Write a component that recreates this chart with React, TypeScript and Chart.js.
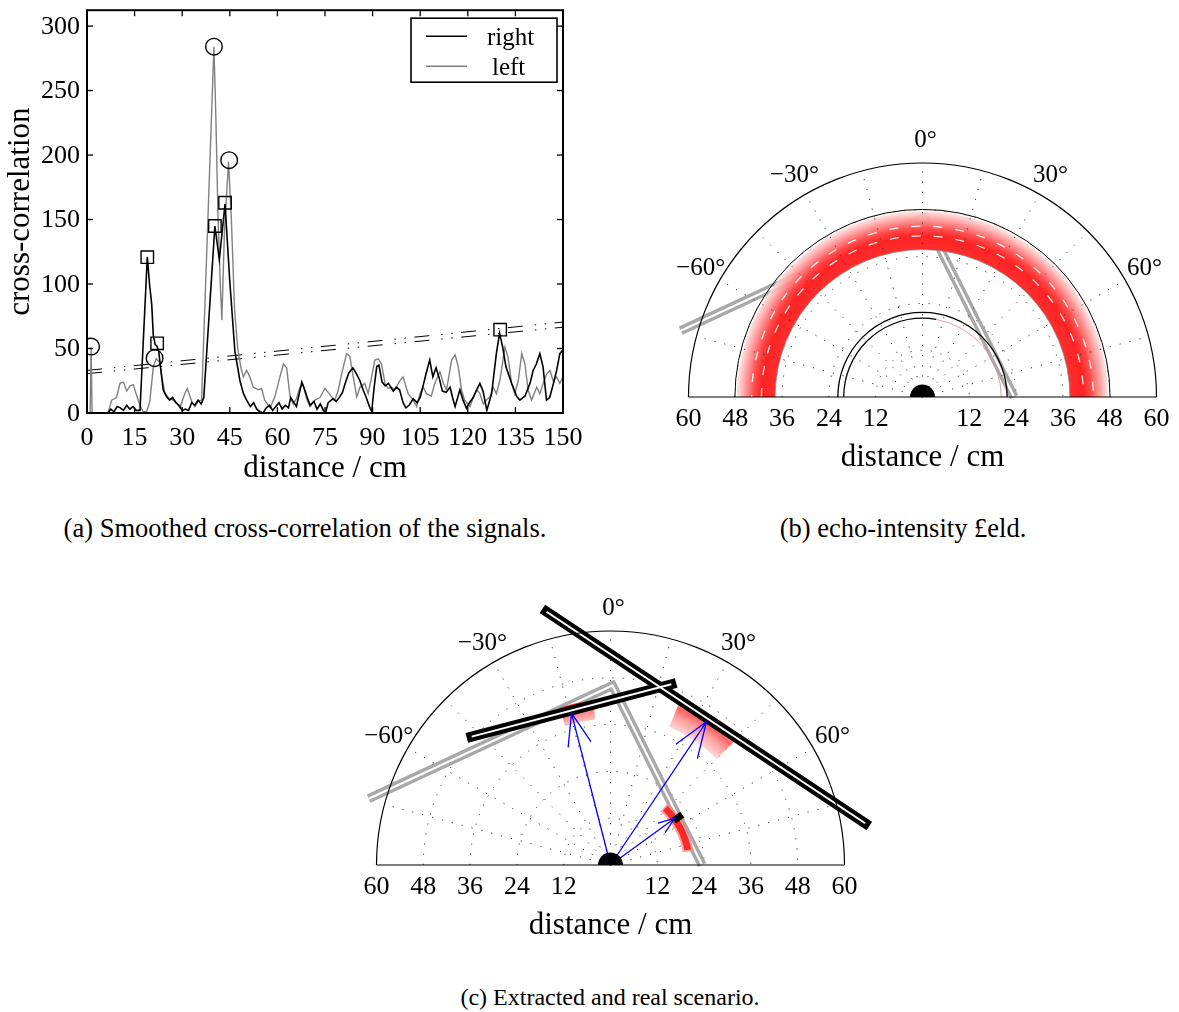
import React, { useEffect, useRef } from "react";
import { Chart, registerables } from "chart.js";
Chart.register(...registerables);

const SERIF = '"Liberation Serif", "Times New Roman", serif';

// ---------------- Panel (a): cross-correlation ----------------
const rightX = [6.5, 7.5, 8.5, 9.5, 10.5, 11.5, 12.5, 13.5, 14.5, 15.5, 16.7, 19, 19.7, 20.4, 20.9, 21.5, 22, 22.6, 23.2, 24, 25, 26, 27, 28, 29, 30, 31, 32, 33, 34, 35, 36, 36.8, 40.3, 41.7, 43.5, 45, 46.6, 48.2, 49.3, 50.3, 51.5, 52.5, 53.5, 54.5, 55.5, 56.5, 57.5, 58.5, 59.5, 60.5, 61.5, 62.5, 63.5, 64.2, 65.2, 66, 66.8, 67.7, 68.6, 69.4, 70.3, 71.5, 72.5, 73.5, 74.5, 75.2, 76, 77.5, 78.5, 79.5, 80.5, 81.5, 82.5, 83.8, 85, 86, 87, 88, 89, 89.7, 90.5, 91.3, 92, 93, 94, 95, 96.5, 97.5, 98.5, 99.6, 100.5, 101.5, 102.8, 104, 105, 106, 107, 108, 109, 110, 111, 112, 113.2, 114.4, 115.2, 116, 117.5, 118.5, 119.6, 120.5, 121.7, 122.8, 123.8, 124.8, 126, 127.5, 129, 130, 131, 132, 133.8, 135.4, 136.4, 138, 139.6, 140.6, 141.6, 142.7, 143.7, 144.8, 145.8, 147, 148, 149, 150];
const rightY = [0, 3, 1, 5, 4, 2, 6, 3, 5, 2, 2, 121, 100, 84, 60, 53, 52, 48, 35, 18, 13, 10, 12, 8, 6, 2, 3, 2, 8, 6, 10, 7, 12, 145, 119, 162, 102, 48, 25, 15, 10, 5, 8, 3, 1, 0, 4, 6, 2, 5, 8, 3, 6, 4, 12, 8, 5, 14, 24, 18, 12, 6, 9, 3, 7, 2, 0.5, 8, 11, 9, 12, 16, 24, 31, 35, 30, 25, 18, 12, 5, 1, 20, 36, 37, 24, 21, 23, 17, 20, 18, 8, 4, 6, 11, 8, 12, 22, 32, 41, 28, 35, 27, 17, 16, 20, 12, 5, 18, 10, 3.6, 8, 12, 18, 23, 17, 2, 15, 46, 62, 51, 36, 23, 13, 10, 13, 23, 33, 38, 46, 36, 10, 12, 23, 33, 46, 49];

const leftX = [0, 1.0, 1.3, 1.6, 6.6, 7.8, 9.3, 10.4, 11.5, 12.5, 13.6, 14.6, 15.6, 16.7, 17.7, 18.8, 19.8, 20.9, 21.8, 23, 23.6, 24.5, 25.6, 27.2, 28.2, 29.3, 30.8, 31.6, 33, 34, 35, 36.1, 40, 40.6, 41.3, 42, 42.5, 43.3, 44.6, 45.5, 46.5, 47.5, 48.5, 49.3, 50.3, 51.3, 52.4, 54, 55, 56, 57.7, 59.2, 60.8, 61.9, 62.9, 64, 65, 66, 67.1, 68.1, 69.2, 70.3, 71.8, 73.4, 75, 76, 77.1, 78.1, 79.2, 80.2, 81.8, 82.8, 83.9, 85, 86, 87.5, 88.6, 89.7, 90.7, 91.8, 92.8, 93.9, 94.9, 96, 97, 98.6, 99.6, 100.7, 101.2, 102.8, 103.9, 104.9, 105.9, 107, 108.5, 109.6, 111.2, 111.7, 112.3, 113.3, 114.9, 116, 117, 118, 119, 120.7, 121.7, 122.8, 123.8, 124.9, 125.9, 127, 128, 129, 130.1, 131.7, 132.7, 133.8, 134.8, 135.9, 137, 138, 139, 140.1, 141.7, 142.7, 143.8, 144.8, 145.9, 146.9, 148, 149, 150];
const leftY = [0, 0, 51, 0, 0, 10, 12, 23, 24, 17, 21, 22, 14, 6, 1, 1, 9, 36, 42, 39, 28, 16, 12, 10, 8, 4, 15, 19, 9, 5, 9, 10, 284, 230, 150, 100, 72, 140, 195, 150, 80, 50, 35, 28, 33, 28, 20, 18, 19, 10, 4, 12.5, 28, 38, 35, 12.5, 7, 11, 20, 22, 11, 5, 10, 12, 19, 16, 12.5, 10, 18, 30, 46, 44, 28, 12.5, 20, 23, 15, 28, 41, 42, 38, 23, 19, 20, 18, 25, 28, 19, 15, 10, 5, 15, 20, 15, 13, 23, 32, 28, 23, 18, 41, 45, 36, 18, 10, 5, 12, 18, 15, 7, 10, 12.5, 20, 15, 25, 51, 43, 23, 15, 25, 46, 38, 18, 10, 20, 15, 23, 30, 33, 25, 28, 23, 28];

const circlePeakX = [1.3, 21.3, 40.0, 44.8];
const circlePeakY = [51.5, 42.5, 284, 196];
const squarePeakX = [19.0, 22.1, 40.3, 43.5, 130.2];
const squarePeakY = [120.8, 54, 145, 163, 64.6];

const thresholdX = [0, 150];
const thresholdRightY = [33, 70.5];
const thresholdLeftY = [30.5, 66.5];

const distanceTicks = [0, 15, 30, 45, 60, 75, 90, 105, 120, 135, 150];
const correlationTicks = [0, 50, 100, 150, 200, 250, 300];
const legendLabels = ["right", "left"];

// ---------------- Panels (b) and (c): polar half-planes ----------------
const polarDistanceTicks = [-60, -48, -36, -24, -12, 12, 24, 36, 48, 60];
const polarAngleTicks = [-60, -30, 0, 30, 60];
const polarGridRadii = [12, 24, 36, 48];
const polarSpokeAngles = [-75, -60, -45, -30, -15, 0, 15, 30, 45, 60, 75];

// real scenario walls (cm)
const realWallX = [-62, 0.5, 23.5];
const realWallY = [17, 46, 0];

// (b) echo-intensity ring and arcs (cm)
const echoRingRadii = [37.8, 47.6];
const echoRingDashRadii = [41.3, 43.8];
const echoBoundaryRadius = [48.1];
const echoInnerArcRadii = [21.7, 20.2];

// (c) extracted walls (cm)
const extractedWall1X = [-16.4, 65.3];
const extractedWall1Y = [64.9, 10.7];
const extractedWall2X = [-35.6, 15.6];
const extractedWall2Y = [32.9, 46.3];
const extractedEdgeX = [16.3, 18.4];
const extractedEdgeY = [11.4, 12.9];
const arrowTipX = [-10.0, 24.6, 16.5];
const arrowTipY = [38.9, 36.7, 12.0];
const patchInner = [37.5, 38.5, 19.2];
const patchOuter = [42.4, 46.0, 21.2];
const patchFrom = [-18, 23, 43];
const patchTo = [-6, 45, 80];

const pts = (xs: number[], ys: number[]) => xs.map((x, i) => ({ x, y: ys[i] }));

function line(ctx: CanvasRenderingContext2D, x0: number, y0: number, x1: number, y1: number) {
  ctx.beginPath();
  ctx.moveTo(x0, y0);
  ctx.lineTo(x1, y1);
  ctx.stroke();
}

// ---------- panel (a) axes plugin ----------
const axesA = {
  id: "axesA",
  afterDraw(chart: any) {
    const { ctx, chartArea: a } = chart;
    const xs = chart.scales.x;
    const ys = chart.scales.y;
    ctx.save();
    ctx.strokeStyle = "#000";
    ctx.lineWidth = 2;
    ctx.strokeRect(a.left, a.top, a.right - a.left, a.bottom - a.top);
    ctx.lineWidth = 1.3;
    for (const v of distanceTicks) {
      const p = xs.getPixelForValue(v);
      line(ctx, p, a.bottom, p, a.bottom - 6);
      line(ctx, p, a.top, p, a.top + 6);
    }
    for (const v of correlationTicks) {
      const p = ys.getPixelForValue(v);
      line(ctx, a.left, p, a.left + 6, p);
      line(ctx, a.right, p, a.right - 6, p);
    }
    ctx.fillStyle = "#000";
    ctx.font = `26px ${SERIF}`;
    ctx.textAlign = "center";
    ctx.textBaseline = "middle";
    for (const v of distanceTicks) ctx.fillText(String(v), xs.getPixelForValue(v), a.bottom + 25);
    ctx.textAlign = "right";
    for (const v of correlationTicks) ctx.fillText(String(v), a.left - 7, ys.getPixelForValue(v) + 1);
    ctx.font = `31px ${SERIF}`;
    ctx.textAlign = "center";
    ctx.fillText("distance / cm", (a.left + a.right) / 2, a.bottom + 56);
    ctx.save();
    ctx.translate(a.left - 66, (a.top + a.bottom) / 2);
    ctx.rotate(-Math.PI / 2);
    ctx.fillText("cross-correlation", 0, 0);
    ctx.restore();
    // legend
    const lx = a.right - 152;
    const ly = a.top + 8;
    ctx.fillStyle = "#fff";
    ctx.fillRect(lx, ly, 146, 64);
    ctx.lineWidth = 1.6;
    ctx.strokeStyle = "#000";
    ctx.strokeRect(lx, ly, 146, 64);
    const colors = ["#000", "#7f7f7f"];
    legendLabels.forEach((lab, i) => {
      const yy = ly + 18 + i * 30;
      ctx.strokeStyle = colors[i];
      ctx.lineWidth = 1.4;
      line(ctx, lx + 15, yy, lx + 56, yy);
      ctx.fillStyle = "#000";
      ctx.font = `25px ${SERIF}`;
      ctx.textAlign = "left";
      ctx.textBaseline = "alphabetic";
      ctx.fillText(lab, lx + (i === 0 ? 76 : 81), yy + 9);
    });
    ctx.restore();
  },
};

// ---------- polar helpers ----------
function geo(chart: any) {
  const xs = chart.scales.x;
  const ys = chart.scales.y;
  const cx = xs.getPixelForValue(0);
  const cy = ys.getPixelForValue(0);
  const k = xs.getPixelForValue(1) - cx;
  return { cx, cy, k };
}
const rad = (deg: number) => ((deg - 90) * Math.PI) / 180;

function drawGrid(chart: any) {
  const { ctx } = chart;
  const { cx, cy, k } = geo(chart);
  ctx.save();
  ctx.strokeStyle = "#333";
  ctx.lineWidth = 1;
  ctx.setLineDash([1.2, 9]);
  for (const r of polarGridRadii) {
    ctx.beginPath();
    ctx.arc(cx, cy, r * k, Math.PI, 2 * Math.PI);
    ctx.stroke();
  }
  for (const a of polarSpokeAngles) {
    const t = (a * Math.PI) / 180;
    line(ctx, cx, cy, cx + 60 * k * Math.sin(t), cy - 60 * k * Math.cos(t));
  }
  ctx.restore();
}

function drawFrame(chart: any) {
  const { ctx } = chart;
  const { cx, cy, k } = geo(chart);
  ctx.save();
  ctx.strokeStyle = "#000";
  ctx.lineWidth = 1.2;
  ctx.beginPath();
  ctx.arc(cx, cy, 60 * k, Math.PI, 2 * Math.PI);
  ctx.stroke();
  line(ctx, cx - 60 * k, cy, cx + 60 * k, cy);
  // sensor
  ctx.fillStyle = "#000";
  ctx.beginPath();
  ctx.arc(cx, cy, 12.5, Math.PI, 2 * Math.PI);
  ctx.closePath();
  ctx.fill();
  // labels
  ctx.fillStyle = "#000";
  ctx.font = `26px ${SERIF}`;
  ctx.textAlign = "center";
  ctx.textBaseline = "middle";
  for (const v of polarDistanceTicks) ctx.fillText(String(Math.abs(v)), cx + v * k, cy + 22);
  ctx.font = `25px ${SERIF}`;
  for (const a of polarAngleTicks) {
    const t = (a * Math.PI) / 180;
    const r = 65.7 * k;
    const txt = a < 0 ? `\u2212${-a}\u00b0` : `${a}\u00b0`;
    ctx.fillText(txt, cx + r * Math.sin(t) + (a === 0 ? 3 : 0), cy - r * Math.cos(t));
  }
  ctx.font = `31px ${SERIF}`;
  ctx.fillText("distance / cm", cx, cy + 61);
  ctx.restore();
}

function sectorPath(ctx: CanvasRenderingContext2D, cx: number, cy: number, r0: number, r1: number, a0: number, a1: number) {
  ctx.beginPath();
  ctx.arc(cx, cy, r1, rad(a0), rad(a1));
  ctx.arc(cx, cy, r0, rad(a1), rad(a0), true);
  ctx.closePath();
}

// ---------- panel (b) plugin ----------
const echoPlugin = {
  id: "echoPlugin",
  afterDatasetsDraw(chart: any) {
    const { ctx } = chart;
    const { cx, cy, k } = geo(chart);
    const [rin, rout] = echoRingRadii;
    ctx.save();
    // boundary arc
    ctx.strokeStyle = "#000";
    ctx.lineWidth = 1;
    ctx.beginPath();
    ctx.arc(cx, cy, echoBoundaryRadius[0] * k, Math.PI, 2 * Math.PI);
    ctx.stroke();
    // intensity ring
    const g = ctx.createRadialGradient(cx, cy, rin * k, cx, cy, rout * k);
    g.addColorStop(0, "rgba(255,45,45,1)");
    g.addColorStop(0.35, "rgba(255,35,35,1)");
    g.addColorStop(0.55, "rgba(255,75,75,1)");
    g.addColorStop(0.78, "rgba(255,150,150,0.95)");
    g.addColorStop(1, "rgba(255,222,222,0.85)");
    sectorPath(ctx, cx, cy, rin * k, rout * k, -90, 90);
    ctx.fillStyle = g;
    ctx.fill();
    ctx.strokeStyle = "rgba(255,255,255,0.9)";
    ctx.lineWidth = 1.3;
    ctx.setLineDash([9, 13]);
    echoRingDashRadii.forEach((r, i) => {
      ctx.lineDashOffset = i * 7;
      ctx.beginPath();
      ctx.arc(cx, cy, r * k, Math.PI, 2 * Math.PI);
      ctx.stroke();
    });
    ctx.setLineDash([]);
    ctx.strokeStyle = "#888";
    ctx.lineWidth = 0.8;
    ctx.beginPath();
    ctx.arc(cx, cy, rin * k, Math.PI, 2 * Math.PI);
    ctx.stroke();
    // inner double arc
    ctx.strokeStyle = "#000";
    ctx.lineWidth = 1.3;
    echoInnerArcRadii.forEach((r, i) => {
      ctx.beginPath();
      ctx.arc(cx, cy, r * k, -Math.PI, i === 0 ? 0 : rad(10));
      ctx.stroke();
    });
    ctx.strokeStyle = "rgba(220,150,150,0.9)";
    ctx.lineWidth = 1;
    ctx.beginPath();
    ctx.arc(cx, cy, echoInnerArcRadii[1] * k, rad(10), 0);
    ctx.stroke();
    ctx.restore();
    drawGrid(chart);
  },
  afterDraw(chart: any) {
    drawFrame(chart);
  },
};

// ---------- panel (c) plugin ----------
const scenarioPlugin = {
  id: "scenarioPlugin",
  beforeDatasetsDraw(chart: any) {
    drawGrid(chart);
  },
  afterDatasetDraw(chart: any, args: any) {
    if (chart.data.datasets[args.index].label !== "real walls (inner)") return;
    const { ctx } = chart;
    const { cx, cy, k } = geo(chart);
    ctx.save();
    // patch A
    let g = ctx.createRadialGradient(cx, cy, patchInner[0] * k, cx, cy, patchOuter[0] * k);
    g.addColorStop(0, "rgba(255,185,185,0.9)");
    g.addColorStop(0.5, "rgba(255,120,120,0.95)");
    g.addColorStop(1, "rgba(255,50,50,1)");
    sectorPath(ctx, cx, cy, patchInner[0] * k, patchOuter[0] * k, patchFrom[0], patchTo[0]);
    ctx.fillStyle = g;
    ctx.fill();
    // patch B
    g = ctx.createRadialGradient(cx, cy, patchInner[1] * k, cx, cy, patchOuter[1] * k);
    g.addColorStop(0, "rgba(255,205,205,0.85)");
    g.addColorStop(0.4, "rgba(255,150,150,0.9)");
    g.addColorStop(0.7, "rgba(255,90,90,0.95)");
    g.addColorStop(1, "rgba(255,200,200,0.85)");
    sectorPath(ctx, cx, cy, patchInner[1] * k, patchOuter[1] * k, patchFrom[1], patchTo[1]);
    ctx.fillStyle = g;
    ctx.fill();
    // patch C
    const rc = ((patchInner[2] + patchOuter[2]) / 2) * k;
    ctx.strokeStyle = "rgba(255,130,130,0.75)";
    ctx.lineWidth = (patchOuter[2] - patchInner[2]) * k + 3;
    ctx.beginPath();
    ctx.arc(cx, cy, rc, rad(patchFrom[2]), rad(patchTo[2]));
    ctx.stroke();
    ctx.strokeStyle = "rgba(255,40,40,1)";
    ctx.lineWidth = (patchOuter[2] - patchInner[2]) * k - 1;
    ctx.beginPath();
    ctx.arc(cx, cy, rc, rad(patchFrom[2] + 1), rad(patchTo[2] - 1));
    ctx.stroke();
    ctx.restore();
  },
  afterDraw(chart: any) {
    drawFrame(chart);
  },
};

function arrowHead(x1: number, y1: number) {
  const L = Math.hypot(x1, y1);
  const h = 0.22 * L;
  const bx = -x1 / L;
  const by = -y1 / L;
  const a = (20 * Math.PI) / 180;
  const c = Math.cos(a);
  const s = Math.sin(a);
  return [
    { x: x1 + h * (bx * c - by * s), y: y1 + h * (bx * s + by * c) },
    { x: x1, y: y1 },
    { x: x1 + h * (bx * c + by * s), y: y1 + h * (-bx * s + by * c) },
  ];
}

const lineDs = (label: string, data: any[], color: string, width: number, order: number, extra: any = {}) => ({
  label,
  data,
  showLine: true,
  borderColor: color,
  backgroundColor: color,
  borderWidth: width,
  pointRadius: 0,
  order,
  clip: false,
  tension: 0,
  ...extra,
});

const baseOptions = (padding: any, xr: number[], yr: number[]) => ({
  animation: false,
  responsive: false,
  events: [],
  layout: { padding },
  scales: {
    x: { type: "linear", display: false, min: xr[0], max: xr[1] },
    y: { type: "linear", display: false, min: yr[0], max: yr[1] },
  },
  plugins: { legend: { display: false }, tooltip: { enabled: false } },
});

function ChartCanvas({ make, left, top, width, height }: any) {
  const ref = useRef<HTMLCanvasElement>(null);
  useEffect(() => {
    const chart = new Chart(ref.current as HTMLCanvasElement, make());
    return () => chart.destroy();
  }, []);
  return <canvas ref={ref} width={width} height={height} style={{ position: "absolute", left, top, width, height }} />;
}

const makeA = () =>
  ({
    type: "scatter",
    data: {
      datasets: [
        { label: "peaks left", data: pts(circlePeakX, circlePeakY), pointStyle: "circle", pointRadius: 8.3, borderColor: "#000", borderWidth: 1.4, backgroundColor: "rgba(0,0,0,0)", showLine: false, order: 0 },
        { label: "peaks right", data: pts(squarePeakX, squarePeakY), pointStyle: "rect", pointRadius: 8.8, borderColor: "#000", borderWidth: 1.4, backgroundColor: "rgba(0,0,0,0)", showLine: false, order: 0 },
        lineDs("right", pts(rightX, rightY), "#000", 1.6, 1),
        lineDs("left", pts(leftX, leftY), "#808080", 1.4, 2),
        lineDs("threshold right", pts(thresholdX, thresholdRightY), "#000", 1, 3, { borderDash: [15, 12, 1.5, 8.5, 1.5, 8.5] }),
        lineDs("threshold left", pts(thresholdX, thresholdLeftY), "#000", 1, 3, { borderDash: [15, 12, 1.5, 8.5, 1.5, 8.5] }),
      ],
    },
    options: baseOptions({ left: 87, right: 27, top: 7, bottom: 87 }, [0, 150], [0, 312.3]),
    plugins: [axesA],
  }) as any;

const makeB = () =>
  ({
    type: "scatter",
    data: {
      datasets: [
        lineDs("real walls (inner)", pts(realWallX, realWallY), "#fff", 2.2, 4, { borderJoinStyle: "miter" }),
        lineDs("real walls", pts(realWallX, realWallY), "#a8a8a8", 9, 5, { borderJoinStyle: "miter" }),
      ],
    },
    options: baseOptions({ left: 0, right: 0, top: 0, bottom: 80 }, [-65, 65], [0, 72]),
    plugins: [echoPlugin],
  }) as any;

const makeC = () => {
  const arrows: any[] = [];
  arrowTipX.forEach((x, i) => {
    const y = arrowTipY[i];
    arrows.push(lineDs(`echo ${i + 1}`, [{ x: 0, y: 0 }, { x, y }], "#0000ff", 1.3, 0));
    arrows.push(lineDs(`echo ${i + 1} head`, arrowHead(x, y), "#0000ff", 1.3, 0, { borderJoinStyle: "miter" }));
  });
  return {
    type: "scatter",
    data: {
      datasets: [
        ...arrows,
        lineDs("extracted edge", pts(extractedEdgeX, extractedEdgeY), "#000", 7, 1),
        lineDs("extracted wall 1 (inner)", pts(extractedWall1X, extractedWall1Y), "#fff", 2, 2),
        lineDs("extracted wall 2 (inner)", pts(extractedWall2X, extractedWall2Y), "#fff", 2, 2),
        lineDs("extracted wall 1", pts(extractedWall1X, extractedWall1Y), "#000", 10, 3, { borderCapStyle: "square" }),
        lineDs("extracted wall 2", pts(extractedWall2X, extractedWall2Y), "#000", 10, 3, { borderCapStyle: "square" }),
        lineDs("real walls (inner)", pts(realWallX, realWallY), "#fff", 2.2, 4, { borderJoinStyle: "miter" }),
        lineDs("real walls", pts(realWallX, realWallY), "#a8a8a8", 9, 5, { borderJoinStyle: "miter" }),
      ],
    },
    options: baseOptions({ left: 0, right: 8, top: 0, bottom: 80 }, [-65, 65], [0, 72]),
    plugins: [scenarioPlugin],
  } as any;
};

const captionStyle = (cx: number, cy: number, size: number): React.CSSProperties => ({
  position: "absolute",
  left: cx - 350,
  width: 700,
  top: cy - 15,
  textAlign: "center",
  fontFamily: SERIF,
  fontSize: size,
  lineHeight: "30px",
  color: "#000",
  whiteSpace: "nowrap",
});

export default function App() {
  useEffect(() => {
    document.body.style.margin = "0";
    document.body.style.background = "#fff";
  }, []);
  return (
    <div style={{ position: "absolute", left: 0, top: 0, width: 1179, height: 1012, background: "#fff", overflow: "hidden" }}>
      <ChartCanvas make={makeA} left={0} top={0} width={590} height={500} />
      <ChartCanvas make={makeB} left={669} top={116} width={507} height={361} />
      <ChartCanvas make={makeC} left={357} top={584} width={515} height={361} />
      <div style={captionStyle(305, 528, 26.5)}>(a) Smoothed cross-correlation of the signals.</div>
      <div style={captionStyle(903, 528, 26.5)}>(b) echo-intensity £eld.</div>
      <div style={captionStyle(610, 997, 24)}>(c) Extracted and real scenario.</div>
    </div>
  );
}
